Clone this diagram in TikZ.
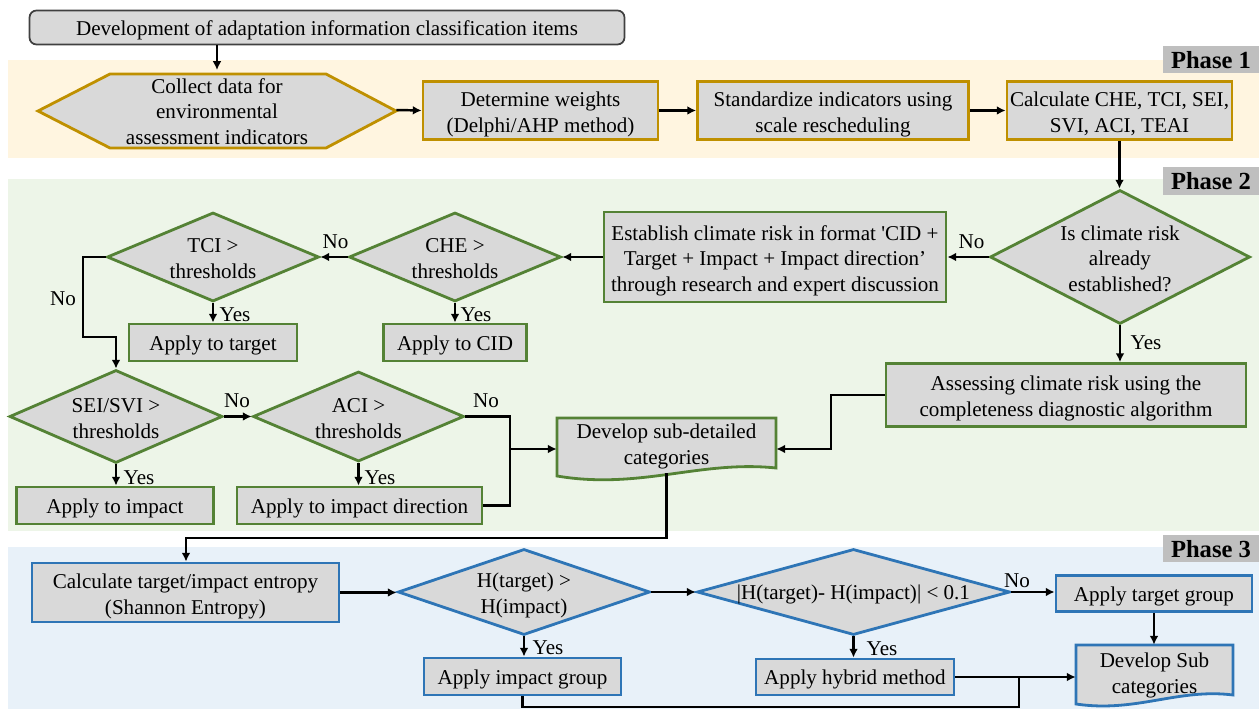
\documentclass[tikz,border=0pt]{standalone}
\usepackage{fontspec}
\setmainfont{Liberation Serif}
\usetikzlibrary{shapes.geometric,arrows.meta}
\newdimen\px \px=0.02cm
\newcommand\fl{\rule{0pt}{12.9pt}}
\definecolor{boxfill}{RGB}{217,217,217}
\definecolor{pgold}{RGB}{191,144,0}
\definecolor{pgreen}{RGB}{84,130,53}
\definecolor{pblue}{RGB}{46,117,182}
\definecolor{bandA}{RGB}{255,245,224}
\definecolor{bandB}{RGB}{237,245,232}
\definecolor{bandC}{RGB}{232,241,249}
\definecolor{labgray}{RGB}{191,191,191}
\definecolor{topborder}{RGB}{64,64,64}
\tikzset{
  plain/.style={font=\fontsize{12}{14.7}\selectfont, align=center, inner sep=0pt,
    execute at end node={\rule[-2.8pt]{0pt}{0pt}}},
  txt/.style={plain, execute at begin node={\rule{0pt}{11.8pt}}},
  box/.style={plain, rectangle, fill=boxfill, line width=1.6pt},
  sbox/.style={box, execute at begin node={\rule{0pt}{11.8pt}}},
  gbox/.style={box, draw=pgold},
  grbox/.style={box, draw=pgreen},
  bbox/.style={box, draw=pblue},
  dec/.style={plain, diamond, fill=boxfill, line width=1.6pt, inner sep=-5pt},
  grdec/.style={dec, draw=pgreen},
  bdec/.style={dec, draw=pblue},
  arr/.style={line width=1.4pt, -{Latex[length=5pt,width=5pt]}},
  ln/.style={line width=1.4pt},
  lab/.style={plain, execute at begin node={\rule{0pt}{10.9pt}}},
  phase/.style={fill=labgray, font=\fontsize{14}{16}\selectfont\bfseries, minimum width=96\px, minimum height=27\px, inner sep=0pt,
    execute at begin node={\rule{0pt}{12.7pt}}, execute at end node={\rule[-3pt]{0pt}{0pt}}},
}
\begin{document}
\begin{tikzpicture}[x=0.02cm,y=-0.02cm]
\useasboundingbox (0,0) rectangle (1259,709);
% bands
\fill[bandA] (8,60) rectangle (1259,158);
\fill[bandB] (8,179) rectangle (1259,531);
\fill[bandC] (8,547) rectangle (1259,709);
\node[phase] (ph1) at (1211,59.5) {Phase 1};
\node[phase] (ph2) at (1211,181) {Phase 2};
\node[phase] (ph3) at (1211,548.5) {Phase 3};
% top
\node[txt, draw=topborder, fill=boxfill, line width=1pt, rounded corners=4pt, minimum width=595\px, minimum height=34\px] (top) at (327,27.5) {Development of adaptation information classification items};
% phase 1
\filldraw[fill=boxfill, draw=pgold, line width=1.6pt] (38,111) -- (110,74) -- (326,74) -- (396,111) -- (326,148) -- (110,148) -- cycle;
\node[plain, minimum width=358\px, minimum height=74\px] (collect) at (217,110) {\fl Collect data for\\environmental\\assessment indicators};
\node[gbox, minimum width=235\px, minimum height=58\px] (weights) at (540.5,110.5) {\fl Determine weights\\(Delphi/AHP method)};
\node[gbox, minimum width=271\px, minimum height=58\px] (std) at (833,110.5) {\fl Standardize indicators using\\scale rescheduling};
\node[gbox, minimum width=225\px, minimum height=58\px] (calc) at (1119.5,110.5) {\fl Calculate CHE, TCI, SEI,\\SVI, ACI, TEAI};
% phase 2
\node[grdec, minimum width=260\px, minimum height=134\px, aspect=1.94] (isc) at (1120,257) {\fl Is climate risk\\already\\established?};
\node[grbox, minimum width=342\px, minimum height=90\px] (est) at (775,257) {\fl Establish climate risk in format \textquotesingle CID +\\Target + Impact + Impact direction’\\through research and expert discussion};
\node[grdec, minimum width=212\px, minimum height=89\px, aspect=2.38] (che) at (455,257) {\fl CHE >\\thresholds};
\node[grdec, minimum width=212\px, minimum height=89\px, aspect=2.38] (tci) at (213,257) {\fl TCI >\\thresholds};
\node[grbox, sbox, minimum width=168\px, minimum height=37\px] (ctarget) at (213,342.5) {Apply to target};
\node[grbox, sbox, minimum width=143\px, minimum height=37\px] (ccid) at (455,342.5) {Apply to CID};
\node[grdec, minimum width=213\px, minimum height=93\px, aspect=2.29] (sei) at (116,416.5) {\fl SEI/SVI >\\thresholds};
\node[grdec, minimum width=211\px, minimum height=90\px, aspect=2.34] (aci) at (358.5,416.5) {\fl ACI >\\thresholds};
\node[grbox, sbox, minimum width=197\px, minimum height=37\px] (cimp) at (115,505.5) {Apply to impact};
\node[grbox, sbox, minimum width=245\px, minimum height=37\px] (cdir) at (359.5,505.5) {Apply to impact direction};
\node[grbox, minimum width=360\px, minimum height=63\px] (assess) at (1066,395) {\fl Assessing climate risk using the\\completeness diagnostic algorithm};
\filldraw[fill=boxfill, draw=pgreen, line width=1.6pt] (557,418) -- (776,418) -- (776,468) .. controls (700,460) and (640,490) .. (557,476) -- cycle;
\node[plain, minimum width=219\px, minimum height=60\px] (dev) at (666.5,443) {\fl Develop sub-detailed\\categories};
% phase 3
\node[bbox, minimum width=307\px, minimum height=59\px] (ent) at (185.5,592.5) {\fl Calculate target/impact entropy\\(Shannon Entropy)};
\node[bdec, minimum width=252\px, minimum height=86\px, aspect=2.93] (hd) at (524,592) {\fl H(target) >\\H(impact)};
\node[bdec, minimum width=313\px, minimum height=86\px, aspect=3.64, execute at begin node={\rule{0pt}{11.8pt}}] (hd2) at (853.5,592) {|H(target)- H(impact)| < 0.1};
\node[bbox, sbox, minimum width=196\px, minimum height=36\px] (tg) at (1154,593.5) {Apply target group};
\node[bbox, sbox, minimum width=197\px, minimum height=37\px] (ig) at (522.5,676.5) {Apply impact group};
\node[bbox, sbox, minimum width=198\px, minimum height=36\px] (hy) at (855,677) {Apply hybrid method};
\filldraw[fill=boxfill, draw=pblue, line width=1.6pt] (1076,645) -- (1233,645) -- (1233,695) .. controls (1178,688) and (1136,713) .. (1076,704) -- cycle;
\node[plain, minimum width=157\px, minimum height=54\px] (devsub) at (1154.5,672) {\fl Develop Sub\\categories};
% connectors
\draw[arr] (collect.north |- top.south) -- (collect.north);
\draw[arr] (collect.east) -- (weights.west);
\draw[arr] (weights.east) -- (std.west);
\draw[arr] (std.east) -- (calc.west);
\draw[arr] (calc.south) -- (calc.south |- isc.north);
\draw[arr] (isc.west) -- (est.east);
\draw[arr] (est.west) -- (che.east);
\draw[arr] (che.west) -- (tci.east);
\draw[arr] (che.south) -- (che.south |- ccid.north);
\draw[arr] (tci.south) -- (tci.south |- ctarget.north);
\coordinate (k1) at (83,337);
\draw[arr] (tci.west) -| (k1) -| (sei.north);
\draw[arr] (sei.east) -- (aci.west);
\draw[arr] (sei.south) -- (sei.south |- cimp.north);
\draw[arr] (aci.south) -- (aci.south |- cdir.north);
\coordinate (k2) at (510,505.5);
\draw[ln] (aci.east) -| (k2) -- (cdir.east);
\coordinate (k3) at (510,449);
\draw[arr] (k3) -- (k3 -| dev.west);
\draw[arr] (isc.south) -- (isc.south |- assess.north);
\coordinate (k4) at (831,449);
\draw[arr] (assess.west) -| (k4) -- (k4 -| dev.east);
\coordinate (k5) at (186,538);
\draw[arr] (dev.south) |- (k5) -- (k5 |- ent.north);
\draw[arr] (ent.east) -- (ent.east -| hd.west);
\draw[arr] (hd.east) -- (hd2.west);
\draw[arr] (hd2.east) -- (hd2.east -| tg.west);
\draw[arr] (hd.south) -- (hd.south |- ig.north);
\draw[arr] (hd2.south) -- (hd2.south |- hy.north);
\draw[arr] (tg.south) -- (tg.south |- devsub.north);
\draw[arr] (hy.east) -- (hy.east -| devsub.west);
\coordinate (k7) at (1019,707);
\draw[ln] (ig.south) |- (k7) -- (k7 |- hy.east);
% labels
\node[lab] (n1) at (971.5,241.5) {No};
\node[lab] (n2) at (335.5,241.5) {No};
\node[lab] (n3) at (63,298) {No};
\node[lab] (n4) at (237,400.5) {No};
\node[lab] (n5) at (486,400.5) {No};
\node[lab] (n6) at (1017,580) {No};
\node[lab] (y1) at (1146,342) {Yes};
\node[lab] (y2) at (235,314) {Yes};
\node[lab] (y3) at (476,314) {Yes};
\node[lab] (y4) at (139,477) {Yes};
\node[lab] (y5) at (380,477) {Yes};
\node[lab] (y6) at (548,647) {Yes};
\node[lab] (y7) at (882,648) {Yes};
\end{tikzpicture}
\end{document}
